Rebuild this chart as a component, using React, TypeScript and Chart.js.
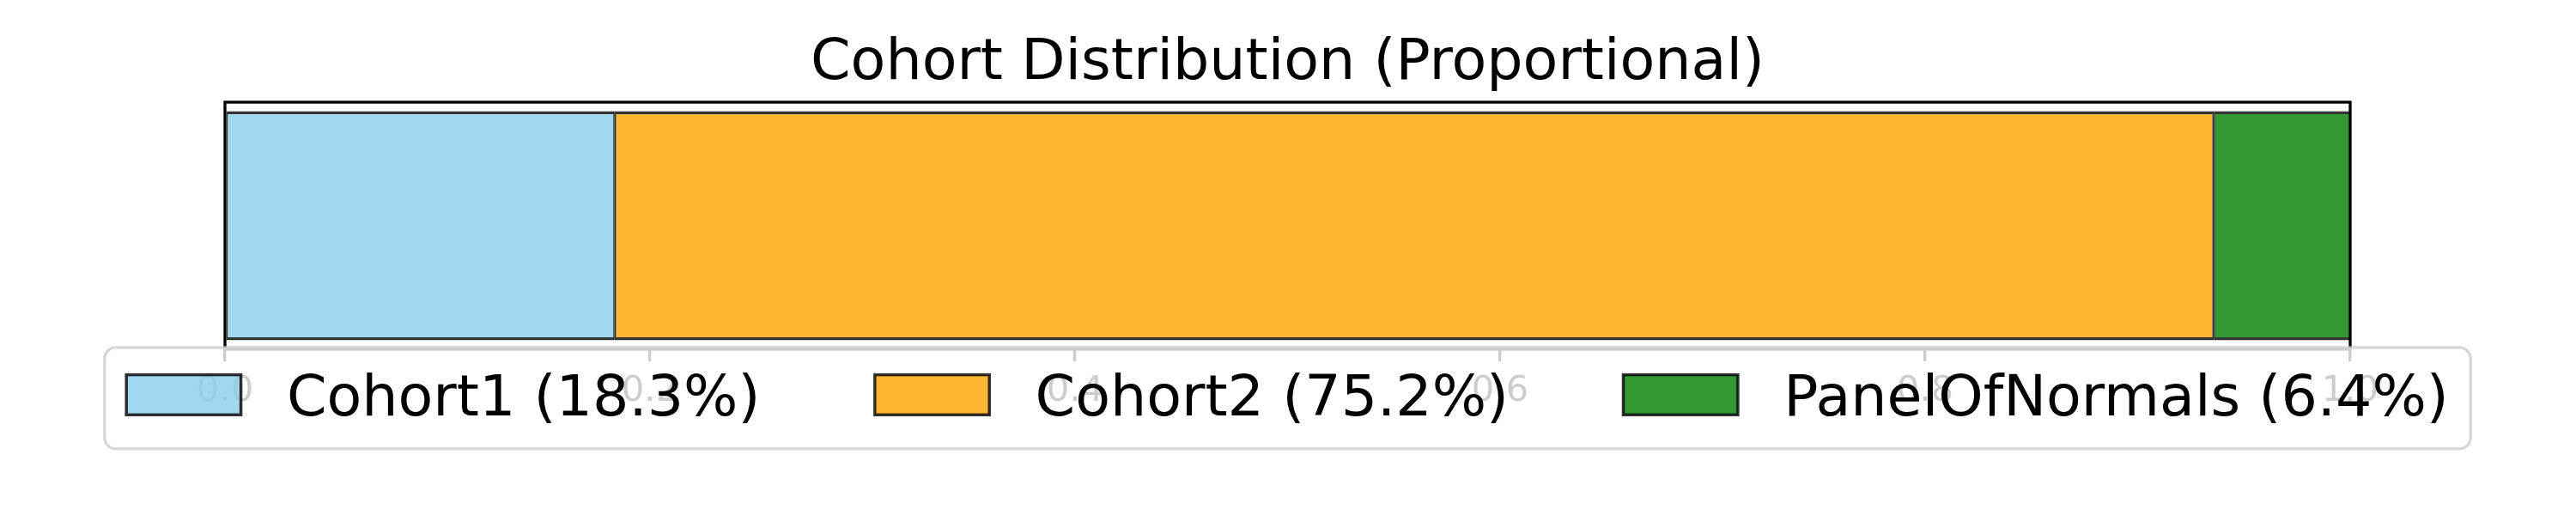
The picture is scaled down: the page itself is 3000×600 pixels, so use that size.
import React, { useEffect, useRef } from 'react';
import { Chart, registerables } from 'chart.js';

Chart.register(...registerables);

// ---- data ----
const categories = [''];
const seriesNames = ['Cohort1', 'Cohort2', 'PanelOfNormals'];
const cohort1Values = [0.1834];
const cohort2Values = [0.7524];
const panelOfNormalsValues = [0.0642];
const xTickValues = [0, 0.2, 0.4, 0.6, 0.8, 1.0];
const titleText = 'Cohort Distribution (Proportional)';

const seriesValues = [cohort1Values, cohort2Values, panelOfNormalsValues];
const seriesColors = ['rgba(135,206,235,0.8)', 'rgba(255,165,0,0.8)', 'rgba(0,128,0,0.8)'];
const edgeColor = 'rgba(0,0,0,0.8)';
const FONT = '"DejaVu Sans", "Liberation Sans", sans-serif';
const LEGEND_FS = 66.7;

const axesFramePlugin = {
  id: 'axesFrame',
  afterDatasetsDraw(chart: any) {
    const { ctx, chartArea: a } = chart;
    ctx.save();
    ctx.strokeStyle = '#000';
    ctx.lineWidth = 3.3;
    ctx.strokeRect(a.left, a.top, a.right - a.left, a.bottom - a.top);
    ctx.restore();
  },
};

const overlayLegendPlugin = {
  id: 'overlayLegend',
  afterDraw(chart: any) {
    const { ctx, chartArea: a } = chart;
    const fs = LEGEND_FS;
    const handleW = 2 * fs;
    const handleH = 0.7 * fs;
    const textPad = 0.8 * fs;
    const colSp = 2 * fs;
    const borderPad = 0.38 * fs;
    ctx.save();
    ctx.font = `${fs}px ${FONT}`;
    const items = chart.data.datasets.map((ds: any) => ({
      label: ds.label,
      fill: ds.backgroundColor,
      stroke: ds.borderColor,
    }));
    const widths = items.map((it: any) => handleW + textPad + ctx.measureText(it.label).width);
    const contentW = widths.reduce((s: number, w: number) => s + w, 0) + colSp * (items.length - 1);
    const cx = (a.left + a.right) / 2;
    const x0 = cx - contentW / 2;
    const frameTop = a.bottom - 2;
    const frameH = 118;
    const frameL = x0 - borderPad;
    const frameR = x0 + contentW + borderPad;
    // frame
    ctx.beginPath();
    ctx.roundRect(frameL, frameTop, frameR - frameL, frameH, 13);
    ctx.fillStyle = 'rgba(255,255,255,0.8)';
    ctx.fill();
    ctx.lineWidth = 3.3;
    ctx.strokeStyle = 'rgba(204,204,204,0.8)';
    ctx.stroke();
    // items
    const pcy = frameTop + 55;
    let x = x0;
    items.forEach((it: any, i: number) => {
      ctx.fillStyle = it.fill;
      ctx.fillRect(x, pcy - handleH / 2, handleW, handleH);
      ctx.lineWidth = 3.5;
      ctx.strokeStyle = it.stroke;
      ctx.strokeRect(x, pcy - handleH / 2, handleW, handleH);
      ctx.fillStyle = '#000';
      ctx.textAlign = 'left';
      ctx.textBaseline = 'alphabetic';
      ctx.fillText(it.label, x + handleW + textPad, pcy + 24);
      x += widths[i] + colSp;
    });
    ctx.restore();
  },
};

export default function App() {
  const canvasRef = useRef<HTMLCanvasElement | null>(null);

  useEffect(() => {
    if (!canvasRef.current) return;
    const datasets = seriesNames.map((name, i) => ({
      label: `${name} (${(seriesValues[i][0] * 100).toFixed(1)}%)`,
      data: seriesValues[i],
      backgroundColor: seriesColors[i],
      borderColor: edgeColor,
      borderWidth: { top: 3.5, bottom: 3.5, left: 1.75, right: 1.75 },
      borderSkipped: false,
      categoryPercentage: 1,
      barPercentage: 0.927,
    }));
    const chart = new Chart(canvasRef.current, {
      type: 'bar',
      data: { labels: categories, datasets },
      plugins: [axesFramePlugin, overlayLegendPlugin],
      options: {
        indexAxis: 'y',
        animation: false,
        responsive: false,
        maintainAspectRatio: false,
        devicePixelRatio: 1,
        layout: { padding: { left: 262, right: 263, top: 0, bottom: 109 } },
        plugins: {
          legend: { display: false },
          tooltip: { enabled: false },
          title: {
            display: true,
            text: titleText,
            color: '#000',
            font: { family: FONT, size: 66.7, weight: 'normal', lineHeight: 1.2 },
            padding: { top: 35, bottom: 4 },
          },
        },
        scales: {
          x: {
            type: 'linear',
            stacked: true,
            min: 0,
            max: 1,
            afterBuildTicks: (scale: any) => {
              scale.ticks = xTickValues.map((v) => ({ value: v }));
            },
            grid: {
              display: true,
              drawOnChartArea: false,
              drawTicks: true,
              tickLength: 14,
              color: '#000',
              lineWidth: 3.3,
            },
            border: { display: false },
            ticks: {
              color: '#000',
              padding: 10,
              font: { family: FONT, size: 41.7 },
              callback: (v: any) => Number(v).toFixed(1),
              maxRotation: 0,
            },
          },
          y: {
            type: 'category',
            stacked: true,
            display: false,
          },
        },
      },
    });
    return () => chart.destroy();
  }, []);

  return (
    <div style={{ position: 'fixed', left: 0, top: 0, width: 3000, height: 600, background: '#fff' }}>
      <canvas ref={canvasRef} width={3000} height={600} style={{ width: 3000, height: 600, display: 'block' }} />
    </div>
  );
}
